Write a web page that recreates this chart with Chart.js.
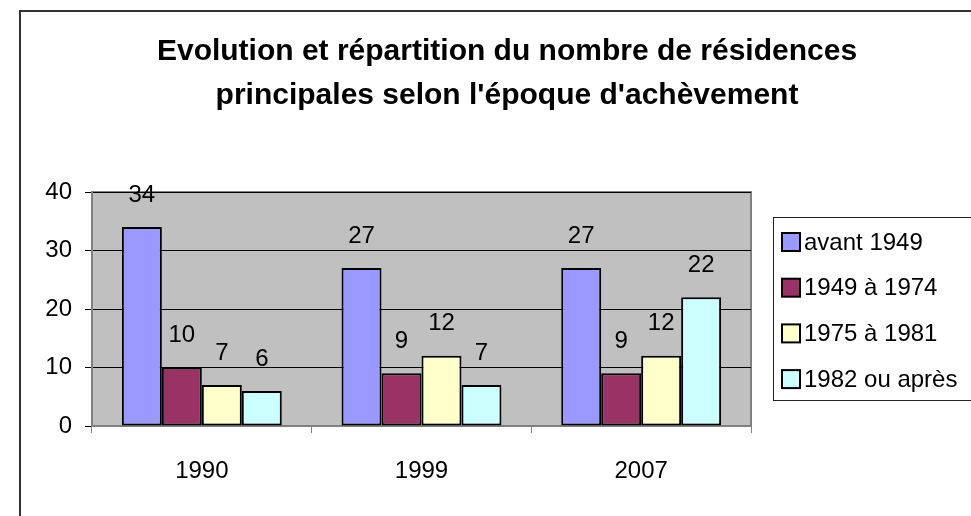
<!DOCTYPE html>
<html>
<head>
<meta charset="utf-8">
<script src="https://cdn.jsdelivr.net/npm/chart.js@4.4.0/dist/chart.umd.min.js"></script>
<style>
  body { margin: 0; background: #fff; }
  #graph { display: block; }
</style>
</head>
<body>
<canvas id="graph" width="971" height="516"></canvas>
<script>
// donnees
var annees = ['1990', '1999', '2007'];
var series = ['avant 1949', '1949 à 1974', '1975 à 1981', '1982 ou après'];
var avant1949 = [34, 27, 27];
var de1949a1974 = [10, 9, 9];
var de1975a1981 = [7, 12, 12];
var apres1982 = [6, 7, 22];
var couleurs = ['#9999FF', '#993366', '#FFFFCC', '#CCFFFF'];
var graduations = [0, 10, 20, 30, 40];

var police = 'Liberation Sans, Arial, sans-serif';
Chart.defaults.font.family = police;
Chart.defaults.color = '#000';

// fond, cadre exterieur, zone de tracé grise
var fondPlugin = {
    id: 'fond',
    beforeDraw: function(chart) {
        var ctx = chart.ctx;
        var a = chart.chartArea;
        ctx.save();
        ctx.fillStyle = '#fff';
        ctx.fillRect(0, 0, chart.width, chart.height);
        ctx.strokeStyle = '#333';
        ctx.lineWidth = 2;
        ctx.strokeRect(20, 11, 1000, 600);
        ctx.fillStyle = '#C0C0C0';
        ctx.fillRect(a.left, a.top, a.right - a.left, a.bottom - a.top);
        ctx.strokeStyle = '#808080';
        ctx.lineWidth = 2;
        ctx.strokeRect(a.left, a.top, a.right - a.left, a.bottom - a.top);
        ctx.restore();
    }
};

// valeurs au dessus des barres + legende
var etiquettesPlugin = {
    id: 'etiquettes',
    afterDatasetsDraw: function(chart) {
        var ctx = chart.ctx;
        ctx.save();
        ctx.font = '24px ' + police;
        ctx.fillStyle = '#000';
        ctx.textAlign = 'center';
        ctx.textBaseline = 'middle';
        chart.data.datasets.forEach(function(ds, i) {
            var meta = chart.getDatasetMeta(i);
            meta.data.forEach(function(bar, j) {
                ctx.fillText(ds.data[j], bar.x, bar.y - 32);
            });
        });
        ctx.restore();
    },
    afterDraw: function(chart) {
        var ctx = chart.ctx;
        var x0 = 773, y0 = 217;
        ctx.save();
        ctx.fillStyle = '#fff';
        ctx.fillRect(x0, y0, 230, 183);
        ctx.strokeStyle = '#222';
        ctx.lineWidth = 1;
        ctx.strokeRect(x0 + 0.5, y0 + 0.5, 230, 183);
        ctx.font = '24px ' + police;
        ctx.textBaseline = 'middle';
        ctx.textAlign = 'left';
        chart.data.datasets.forEach(function(ds, i) {
            var y = 242 + i * 45.7;
            ctx.fillStyle = ds.backgroundColor;
            ctx.fillRect(782, y - 9, 18, 18);
            ctx.strokeStyle = '#000';
            ctx.lineWidth = 2;
            ctx.strokeRect(782, y - 9, 18, 18);
            ctx.fillStyle = '#000';
            ctx.fillText(ds.label, 804, y + 1);
        });
        ctx.restore();
    }
};

function serie(i, valeurs) {
    return {
        label: series[i],
        data: valeurs,
        backgroundColor: couleurs[i],
        borderColor: '#000',
        borderWidth: 2,
        borderSkipped: false,
        categoryPercentage: 0.728,
        barPercentage: 1
    };
}

var ctx = document.getElementById('graph').getContext('2d');
var graphique = new Chart(ctx, {
    type: 'bar',
    data: {
        labels: annees,
        datasets: [
            serie(0, avant1949),
            serie(1, de1949a1974),
            serie(2, de1975a1981),
            serie(3, apres1982)
        ]
    },
    options: {
        responsive: false,
        animation: false,
        layout: { padding: { left: 43, top: 0, right: 0, bottom: 0 } },
        plugins: {
            legend: { display: false },
            tooltip: { enabled: false },
            title: {
                display: true,
                text: ["Evolution et répartition du nombre de résidences", "principales selon l'époque d'achèvement"],
                font: { size: 30, weight: 'bold', lineHeight: 1.467 },
                color: '#000',
                padding: { top: 30, bottom: 74 }
            }
        },
        scales: {
            x: {
                afterFit: function(s) { s.height = 90; },
                grid: { display: true, drawOnChartArea: false, color: '#808080', tickLength: 7, offset: true },
                border: { color: '#808080', width: 2 },
                ticks: { font: { size: 24 }, padding: 24, color: '#000' }
            },
            y: {
                min: 0,
                max: 40,
                afterFit: function(s) { s.width = 49; },
                afterBuildTicks: function(s) { s.ticks = graduations.map(function(v) { return { value: v }; }); },
                grid: { color: '#000', lineWidth: 1, tickLength: 7 },
                border: { color: '#808080', width: 2 },
                ticks: { font: { size: 24 }, padding: 13, color: '#000' }
            },
            marge: {
                position: 'right',
                display: true,
                afterFit: function(s) { s.width = 220; },
                grid: { display: false },
                border: { display: false },
                ticks: { display: false }
            }
        }
    },
    plugins: [fondPlugin, etiquettesPlugin]
});
</script>
</body>
</html>
